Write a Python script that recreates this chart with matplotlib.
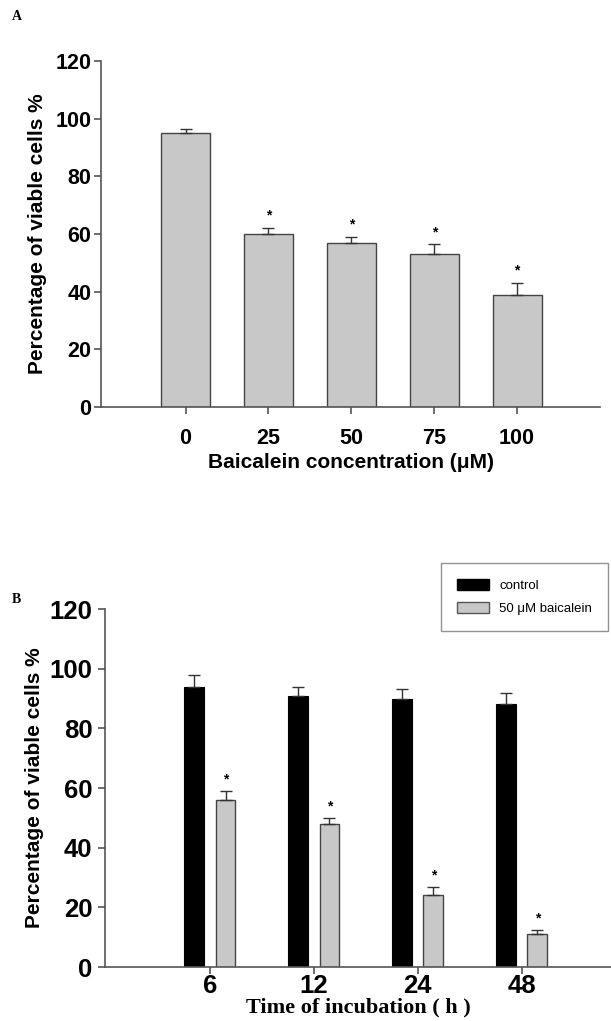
import numpy as np
import matplotlib
matplotlib.use('Agg')
import matplotlib.pyplot as plt
from matplotlib.patches import Patch

# panel A data
conc_labels = ['0', '25', '50', '75', '100']
viable_a = [95, 60, 57, 53, 39]
err_a = [1.5, 2.1, 2.1, 3.5, 4.0]
signif_a = [False, True, True, True, True]

# panel B data
time_labels = ['6', '12', '24', '48']
control_b = [94, 91, 90, 88]
control_err = [4.0, 3.0, 3.3, 3.9]
baicalein_b = [56, 48, 24, 11]
baicalein_err = [3.0, 1.9, 2.8, 1.4]

gray = '#c8c8c8'
axcol = '#555555'
sans = 'Liberation Sans'
serif = 'Liberation Serif'

plt.rcParams['font.family'] = sans

fig = plt.figure(figsize=(6.11, 10.21), dpi=100)


def style_axes(ax, tick_size, xpad, ypad):
    for s in ['top', 'right']:
        ax.spines[s].set_visible(False)
    for s in ['left', 'bottom']:
        ax.spines[s].set_color(axcol)
        ax.spines[s].set_linewidth(1.2)
    ax.tick_params(axis='both', colors=axcol, length=5, width=1.2, direction='out')
    ax.tick_params(axis='x', pad=xpad)
    ax.tick_params(axis='y', pad=ypad)
    for lab in ax.get_xticklabels() + ax.get_yticklabels():
        lab.set_fontsize(tick_size)
        lab.set_fontweight('bold')
        lab.set_color('black')
    ax.set_ylim(0, 120)
    ax.set_yticks(np.arange(0, 121, 20))


# ---- panel A ----
axA = fig.add_axes([101 / 611, 1 - 407 / 1021, 499 / 611, 346 / 1021])
xa = np.arange(len(conc_labels))
axA.bar(xa, viable_a, width=0.59, color=gray, edgecolor='#444444', linewidth=1.0, zorder=2)
axA.errorbar(xa, viable_a, yerr=[np.zeros(len(err_a)), err_a], fmt='none',
             ecolor='#333333', elinewidth=1.0, capsize=4, capthick=1.0, zorder=3)
for x, v, e, s in zip(xa, viable_a, err_a, signif_a):
    if s:
        axA.text(x, v + e + 4.2, '*', ha='center', va='center', fontsize=10, fontweight='bold')
axA.set_xlim(-1.02, 5.0)
axA.set_xticks(xa)
axA.set_xticklabels(conc_labels)
style_axes(axA, 15.5, 10, 2)
axA.set_ylabel('Percentage of viable cells %', fontsize=15, fontweight='bold', labelpad=6)
axA.set_xlabel('Baicalein concentration (μM)', fontsize=15, fontweight='bold', labelpad=3)
fig.text(12 / 611, 1 - 16 / 1021, 'A', family=serif, fontweight='bold', fontsize=10, va='center')

# ---- panel B ----
axB = fig.add_axes([105 / 611, 1 - 967 / 1021, 506 / 611, 358 / 1021])
xb = np.arange(len(time_labels))
off = 0.15
w = 0.19
axB.bar(xb - off, control_b, width=w, color='black', edgecolor='black', linewidth=0.8,
        zorder=2, label='control')
axB.bar(xb + off, baicalein_b, width=w, color=gray, edgecolor='#444444', linewidth=1.0,
        zorder=2, label='50 μM baicalein')
axB.errorbar(xb - off, control_b, yerr=[np.zeros(len(control_err)), control_err], fmt='none',
             ecolor='#333333', elinewidth=1.0, capsize=4, capthick=1.0, zorder=3)
axB.errorbar(xb + off, baicalein_b, yerr=[np.zeros(len(baicalein_err)), baicalein_err], fmt='none',
             ecolor='#333333', elinewidth=1.0, capsize=4, capthick=1.0, zorder=3)
for x, v, e in zip(xb + off, baicalein_b, baicalein_err):
    axB.text(x, v + e + 4.0, '*', ha='center', va='center', fontsize=10, fontweight='bold')
axB.set_xlim(-1.01, 3.86)
axB.set_xticks(xb)
axB.set_xticklabels(time_labels)
style_axes(axB, 18.5, 0, 4)
axB.set_ylabel('Percentage of viable cells %', fontsize=15, fontweight='bold', labelpad=4)
axB.set_xlabel('Time of incubation ( h )', family=serif, fontsize=16, fontweight='bold', labelpad=0)
fig.text(12 / 611, 1 - 599 / 1021, 'B', family=serif, fontweight='bold', fontsize=10, va='center')

handles = [Patch(facecolor='black', edgecolor='black', label='control'),
           Patch(facecolor=gray, edgecolor='#555555', label='50 μM baicalein')]
leg = fig.legend(handles=handles, loc='upper right', bbox_to_anchor=(0.995, 1 - 563 / 1021),
                 fontsize=9.5, frameon=True, fancybox=False, handlelength=2.4, handleheight=0.9,
                 borderpad=1.2, labelspacing=0.8, handletextpad=0.8, borderaxespad=0)
leg.get_frame().set_edgecolor('#777777')
leg.get_frame().set_linewidth(1.0)

fig.savefig('out.png', dpi=100)
